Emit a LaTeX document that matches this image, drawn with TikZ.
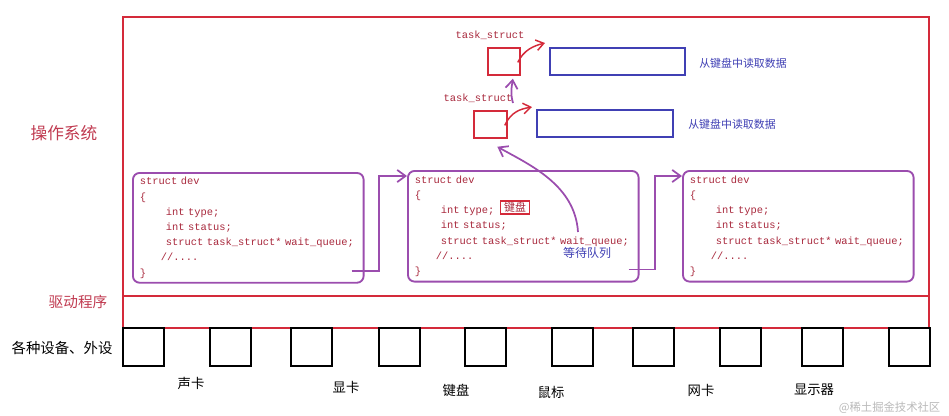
\documentclass[tikz,border=0pt]{standalone}
\usepackage{fontspec}
\setmonofont{Liberation Mono}
\newfontfamily\cjk{Noto Sans CJK SC}
\usepackage{tikz}
\usetikzlibrary{arrows.meta,calc}
\definecolor{osred}{HTML}{D42A3A}
\definecolor{labelred}{HTML}{C03A50}
\definecolor{codered}{HTML}{A8283C}
\definecolor{devpurple}{HTML}{9B4DAE}
\definecolor{readblue}{HTML}{4040B4}
\newcommand{\codefont}{\ttfamily\fontsize{7.8}{11.4}\selectfont}
\newcommand{\ind}{\hspace*{19.5pt}}
\newcommand{\cmt}{\hspace*{15.75pt}}

\begin{document}
\begin{tikzpicture}[x=0.75pt,y=-0.75pt,
  layer/.style={draw=osred,line width=1.2pt,minimum width=604.5pt,anchor=north west,inner sep=0pt},
  devbox/.style={draw=devpurple,line width=1.4pt,rounded corners=5pt,anchor=north west,
    minimum width=173pt,minimum height=82pt,text width=162.5pt,inner xsep=5.25pt,
    align=left,text=codered,font=\codefont},
  taskbox/.style={draw=osred,line width=1.3pt,minimum height=20.25pt,anchor=north west,inner sep=0pt},
  databox/.style={draw=readblue,line width=1.5pt,minimum height=20pt,anchor=north west,inner sep=0pt},
  hwbox/.style={draw=black,line width=1.4pt,minimum width=30.5pt,minimum height=28.5pt,anchor=north west,inner sep=0pt},
  link/.style={devpurple,line width=1.3pt,-{Straight Barb[length=2.2mm,width=3.2mm]}},
  ptr/.style={osred,line width=1.1pt,-{Straight Barb[length=2mm,width=2.8mm]}}]

\useasboundingbox (0,0) rectangle (949,415);

% kernel and driver layers
\node[layer,minimum height=209.25pt] (os) at (122,16) {};
\node[layer,minimum height=24pt] (drv) at (122,295) {};
\node[text=labelred,font=\cjk\fontsize{12.5}{12.5}\selectfont] (oslbl) at (64,133) {操作系统};
\node[text=labelred,font=\cjk\fontsize{11}{11}\selectfont] (drvlbl) at (78,302) {驱动程序};
\node[font=\cjk\fontsize{10.8}{10.8}\selectfont] (hwlbl) at (62,348) {各种设备、外设};

% device structs
\node[devbox] (dev1) at (132,172)
{struct dev\\\{\\\ind int type;\\\ind int status;\\\ind struct task\_struct* wait\_queue;\\\cmt//....\\\}};
\node[devbox,minimum height=83pt] (dev2) at (407,170)
{struct dev\\\{\\\ind int type;\\\ind int status;\\\ind struct task\_struct* wait\_queue;\\\cmt//....\\\}};
\node[devbox,minimum height=83pt] (dev3) at (682,170)
{struct dev\\\{\\\ind int type;\\\ind int status;\\\ind struct task\_struct* wait\_queue;\\\cmt//....\\\}};
\node[draw=osred,line width=1.1pt,inner xsep=2.5pt,inner ysep=1pt,fill=white,text=codered,
      font=\cjk\fontsize{8.2}{8.2}\selectfont] (kbtag) at (515,207.5) {键盘};
\node[text=readblue,font=\cjk\fontsize{9}{9}\selectfont] (wqlbl) at (587,253) {等待队列};

\coordinate (q1) at ($(dev1.south east)+(-13,-13)$);
\coordinate (in2) at ($(dev2.north west)+(0,6)$);
\coordinate (q2) at ($(dev2.south east)+(-11,-13)$);
\coordinate (in3) at ($(dev3.north west)+(0,6)$);
\draw[link] (q1) -| ($(q1)!0.5!(in2)$) |- (in2);
\draw[link] (q2) -| ($(q2)!0.5!(in3)$) |- (in3);

% wait queue
\node[taskbox,minimum width=24pt] (taskA) at (487,47) {};
\node[taskbox,minimum width=24.75pt] (taskB) at (473,110) {};
\node[text=codered,font=\codefont] (taskAlbl) at (490,35) {task\_struct};
\node[text=codered,font=\codefont] (taskBlbl) at (478,98) {task\_struct};
\node[databox,minimum width=101.25pt] (bufA) at (549,47) {};
\node[databox,minimum width=102pt] (bufB) at (536,109) {};
\node[text=readblue,font=\cjk\fontsize{8.2}{8.2}\selectfont] (readA) at (743,63) {从键盘中读取数据};
\node[text=readblue,font=\cjk\fontsize{8.2}{8.2}\selectfont] (readB) at (732,124) {从键盘中读取数据};

\coordinate (pA) at ($(taskA.east)+(-3,1)$);
\coordinate (pB) at ($(taskB.east)+(-3,1)$);
\draw[ptr] (pA) .. controls (524,50) and (533,46) .. (545,43);
\draw[ptr] (pB) .. controls (511,112) and (520,109) .. (532,107);
\coordinate (upB) at (513,103);
\draw[link] (upB) .. controls (510,93) and (512,85) .. ($(taskA.south)+(9,3)$);
\coordinate (wq) at (578,232);
\draw[link] (wq) .. controls (575,185) and (530,165) .. ($(taskB.south)+(7,8)$);

% hardware
\foreach \x [count=\i] in {122,209,290,378,464,551,632,719,801,888}
  \node[hwbox] (hw\i) at (\x,327) {};
\foreach \x/\y/\name/\t in {191/383/sound/声卡,346/387/video/显卡,456/390/keyb/键盘,
    551/392/mouse/鼠标,701/390/nic/网卡,814/390/disp/显示器}
  \node[font=\cjk\fontsize{10}{10}\selectfont] (\name) at (\x,\y) {\t};
\node[text=gray!55,font=\cjk\fontsize{8.5}{8.5}\selectfont,anchor=east] (mark) at (945,408) {@稀土掘金技术社区};

\end{tikzpicture}
\end{document}
